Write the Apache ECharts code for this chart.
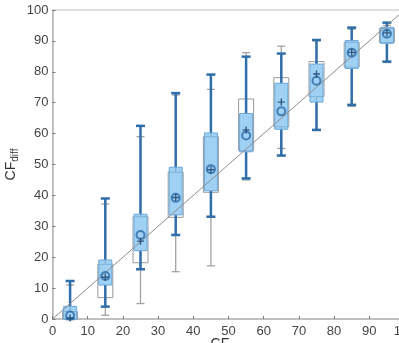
<!DOCTYPE html>
<html>
<head>
<meta charset="utf-8">
<script src="https://cdn.jsdelivr.net/npm/echarts@6/dist/echarts.min.js"></script>
<style>
  html, body { margin: 0; padding: 0; background: #fff; overflow: hidden; }
  #chart { width: 420px; height: 343px; }
</style>
</head>
<body>
<div id="chart"></div>
<script>
// bin centres on the x axis
var centers = [5, 15, 25, 35, 45, 55, 65, 75, 85, 95];
// blue boxes: [lower whisker, q1, q3, upper whisker]
var blueStats = [
  [0, 0, 4.1, 12.3],
  [4.0, 11.0, 19.1, 39.0],
  [16.1, 22.1, 33.9, 62.5],
  [27.2, 33.7, 49.1, 73.1],
  [33.1, 41.5, 60.2, 79.1],
  [45.5, 54.1, 66.5, 84.9],
  [52.9, 61.4, 76.3, 85.9],
  [61.2, 70.2, 82.5, 90.3],
  [69.3, 81.1, 90.1, 94.3],
  [83.3, 89.2, 94.4, 95.9]
];
// white / grey boxes: [lower whisker, q1, q3, upper whisker]
var greyStats = [
  [0, 0, 2.4, 11.0],
  [1.2, 6.9, 17.7, 37.2],
  [5.0, 18.2, 33.1, 59.0],
  [15.3, 32.9, 47.5, 72.5],
  [17.2, 41.0, 59.0, 74.3],
  [45.0, 54.5, 71.2, 86.2],
  [55.2, 62.2, 78.1, 88.3],
  [61.0, 72.0, 83.3, 90.0],
  [68.8, 81.5, 89.5, 93.8],
  [83.0, 89.5, 94.0, 95.0]
];
// markers
var circleVals = [1.1, 13.9, 27.2, 39.2, 48.5, 59.4, 67.2, 77.1, 86.2, 92.3];
var plusVals = [0.3, 13.5, 25.2, 39.3, 48.3, 61.2, 70.2, 79.3, 86.3, 92.6];
var xTicks = [0, 10, 20, 30, 40, 50, 60, 70, 80, 90, 100];

function boxData(stats) {
  return stats.map(function (s, i) { return [centers[i], s[0], s[1], s[2], s[3]]; });
}

function makeRender(st) {
  return function (params, api) {
    var x = api.value(0);
    var lo = api.coord([x, api.value(1)]);
    var q1 = api.coord([x, api.value(2)]);
    var q3 = api.coord([x, api.value(3)]);
    var hi = api.coord([x, api.value(4)]);
    var cx = lo[0];
    var wl = { stroke: st.whisker, lineWidth: st.whiskerW };
    return {
      type: 'group',
      children: [
        { type: 'line', shape: { x1: cx, y1: q3[1], x2: cx, y2: hi[1] }, style: wl },
        { type: 'line', shape: { x1: cx, y1: q1[1], x2: cx, y2: lo[1] }, style: wl },
        { type: 'line', shape: { x1: cx - st.cap, y1: hi[1], x2: cx + st.cap, y2: hi[1] }, style: wl },
        { type: 'line', shape: { x1: cx - st.cap, y1: lo[1], x2: cx + st.cap, y2: lo[1] }, style: wl },
        {
          type: 'rect',
          shape: { x: cx - st.boxW / 2, y: q3[1], width: st.boxW, height: q1[1] - q3[1] },
          style: { fill: st.fill, stroke: st.border, lineWidth: 1 }
        }
      ]
    };
  };
}

var chart = echarts.init(document.getElementById('chart'));
var font = 'Liberation Sans, Arial, sans-serif';
var option = {
  animation: false,
  grid: {
    left: 52.5, top: 10, width: 352, height: 309,
    outerBoundsMode: 'none', containLabel: false,
    show: true, borderColor: '#bdbdbd', borderWidth: 1
  },
  xAxis: {
    type: 'value', min: 0, max: 100, interval: 10,
    name: 'CF{sub|true}', nameLocation: 'middle', nameGap: 16, nameMoveOverlap: false,
    nameTextStyle: {
      color: '#333', fontSize: 14, fontFamily: font, verticalAlign: 'top',
      rich: { sub: { fontSize: 10, fontFamily: font, color: '#333', padding: [8, 0, 0, 0] } }
    },
    axisLine: { lineStyle: { color: '#b8b8b8', width: 1.5 } },
    axisTick: { inside: true, length: 3, lineStyle: { color: '#777' } },
    axisLabel: { color: '#444', fontSize: 13, fontFamily: font, margin: 6 },
    splitLine: { show: false }
  },
  yAxis: {
    type: 'value', min: 0, max: 100, interval: 10,
    name: 'CF{sub|diff}', nameLocation: 'middle', nameGap: 32, nameMoveOverlap: false,
    nameTextStyle: {
      color: '#333', fontSize: 14, fontFamily: font,
      rich: { sub: { fontSize: 10, fontFamily: font, color: '#333', padding: [8, 0, 0, 0] } }
    },
    axisLine: { show: true, lineStyle: { color: '#b8b8b8', width: 1.5 } },
    axisTick: { show: true, inside: true, length: 3, lineStyle: { color: '#777' } },
    axisLabel: { color: '#444', fontSize: 13, fontFamily: font, margin: 4 },
    splitLine: { show: false }
  },
  series: [
    {
      type: 'custom', z: 2,
      renderItem: makeRender({ whisker: '#a3a3a3', whiskerW: 1.3, cap: 4, boxW: 15, fill: '#ffffff', border: '#9a9a9a' }),
      encode: { x: 0, y: [1, 2, 3, 4] },
      data: boxData(greyStats)
    },
    {
      type: 'custom', z: 3,
      renderItem: makeRender({ whisker: '#2f6ea8', whiskerW: 2.5, cap: 4.5, boxW: 13, fill: 'rgba(120,190,240,0.7)', border: '#6aa8dc' }),
      encode: { x: 0, y: [1, 2, 3, 4] },
      data: boxData(blueStats)
    },
    {
      type: 'line', z: 4, symbol: 'none', silent: true,
      lineStyle: { color: '#8c8c8c', width: 1 },
      data: [[xTicks[0], xTicks[0]], [xTicks[xTicks.length - 1], xTicks[xTicks.length - 1]]]
    },
    {
      type: 'scatter', z: 5, symbol: 'circle', symbolSize: 8,
      itemStyle: { color: 'rgba(0,0,0,0)', borderColor: '#2a6aa6', borderWidth: 2 },
      data: circleVals.map(function (v, i) { return [centers[i], v]; })
    },
    {
      type: 'scatter', z: 6, symbol: 'path://M4,0H6V4H10V6H6V10H4V6H0V4H4Z', symbolSize: 7,
      itemStyle: { color: '#163c66' },
      data: plusVals.map(function (v, i) { return [centers[i], v]; })
    }
  ]
};
chart.setOption(option);
</script>
</body>
</html>
